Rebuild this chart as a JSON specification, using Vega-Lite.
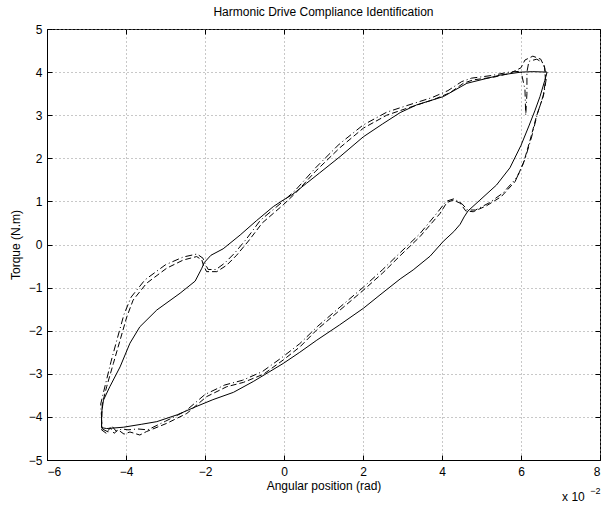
{
  "$schema": "https://vega.github.io/schema/vega-lite/v6.json",
  "width": 553,
  "height": 431,
  "autosize": {"type": "none"},
  "padding": {"left": 47, "top": 29, "right": 2, "bottom": 46},
  "background": "white",
  "title": {"text": "Harmonic Drive Compliance Identification", "fontSize": 12, "fontWeight": "normal", "font": "Liberation Sans", "color": "black", "offset": 4},
  "config": {
    "font": "Liberation Sans",
    "view": {"stroke": "black", "strokeWidth": 1},
    "axis": {"labelFont": "Liberation Sans", "labelFontSize": 12, "labelColor": "black", "titleFont": "Liberation Sans", "titleFontSize": 12, "titleFontWeight": "normal", "titleColor": "black", "domainColor": "black", "tickColor": "black", "gridColor": "#909090", "gridDash": [1, 3], "gridOpacity": 1}
  },
  "datasets": {
    "measured": [
      {"i":1,"x":-4.62,"y":-4.25},{"i":2,"x":-4.49,"y":-4.27},{"i":3,"x":-4.07,"y":-4.24},{"i":4,"x":-3.6,"y":-4.17},{"i":5,"x":-3.22,"y":-4.11},{"i":6,"x":-2.7,"y":-3.95},{"i":7,"x":-2.25,"y":-3.77},{"i":8,"x":-1.8,"y":-3.6},{"i":9,"x":-1.28,"y":-3.43},{"i":10,"x":-0.78,"y":-3.18},{"i":11,"x":-0.4,"y":-2.97},{"i":12,"x":-0.02,"y":-2.76},{"i":13,"x":0.4,"y":-2.5},{"i":14,"x":0.83,"y":-2.22},{"i":15,"x":1.4,"y":-1.87},{"i":16,"x":2.01,"y":-1.48},{"i":17,"x":2.43,"y":-1.17},{"i":18,"x":2.94,"y":-0.8},{"i":19,"x":3.27,"y":-0.59},{"i":20,"x":3.7,"y":-0.27},{"i":21,"x":4.03,"y":0.07},{"i":22,"x":4.3,"y":0.3},{"i":23,"x":4.46,"y":0.47},{"i":24,"x":4.56,"y":0.64},{"i":25,"x":4.66,"y":0.78},{"i":26,"x":4.96,"y":1.03},{"i":27,"x":5.38,"y":1.38},{"i":28,"x":5.72,"y":1.78},{"i":29,"x":6.0,"y":2.3},{"i":30,"x":6.2,"y":2.75},{"i":31,"x":6.35,"y":3.1},{"i":32,"x":6.48,"y":3.43},{"i":33,"x":6.6,"y":3.8},{"i":34,"x":6.66,"y":4.0},{"i":35,"x":6.3,"y":4.01},{"i":36,"x":6.0,"y":4.0},{"i":37,"x":5.47,"y":3.93},{"i":38,"x":4.63,"y":3.74},{"i":39,"x":4.03,"y":3.43},{"i":40,"x":3.36,"y":3.24},{"i":41,"x":2.94,"y":3.06},{"i":42,"x":2.5,"y":2.8},{"i":43,"x":2.01,"y":2.5},{"i":44,"x":1.42,"y":2.04},{"i":45,"x":0.9,"y":1.66},{"i":46,"x":0.57,"y":1.42},{"i":47,"x":0.2,"y":1.15},{"i":48,"x":-0.02,"y":1.03},{"i":49,"x":-0.27,"y":0.88},{"i":50,"x":-0.7,"y":0.55},{"i":51,"x":-1.11,"y":0.22},{"i":52,"x":-1.54,"y":-0.1},{"i":53,"x":-1.85,"y":-0.25},{"i":54,"x":-2.02,"y":-0.42},{"i":55,"x":-2.08,"y":-0.55},{"i":56,"x":-2.25,"y":-0.85},{"i":57,"x":-2.63,"y":-1.13},{"i":58,"x":-3.22,"y":-1.52},{"i":59,"x":-3.65,"y":-1.91},{"i":60,"x":-3.9,"y":-2.29},{"i":61,"x":-4.15,"y":-2.84},{"i":62,"x":-4.41,"y":-3.3},{"i":63,"x":-4.57,"y":-3.61},{"i":64,"x":-4.62,"y":-3.92},{"i":65,"x":-4.62,"y":-4.25}
    ],
    "model1": [
      {"i":1,"x":-4.62,"y":-4.3},{"i":2,"x":-4.5,"y":-4.38},{"i":3,"x":-4.4,"y":-4.25},{"i":4,"x":-4.3,"y":-4.38},{"i":5,"x":-4.2,"y":-4.3},{"i":6,"x":-4.05,"y":-4.4},{"i":7,"x":-3.9,"y":-4.35},{"i":8,"x":-3.65,"y":-4.42},{"i":9,"x":-3.48,"y":-4.34},{"i":10,"x":-2.97,"y":-4.15},{"i":11,"x":-2.46,"y":-3.92},{"i":12,"x":-1.96,"y":-3.53},{"i":13,"x":-1.45,"y":-3.3},{"i":14,"x":-1.03,"y":-3.2},{"i":15,"x":-0.52,"y":-3.01},{"i":16,"x":-0.02,"y":-2.68},{"i":17,"x":0.41,"y":-2.37},{"i":18,"x":0.83,"y":-1.98},{"i":19,"x":1.42,"y":-1.52},{"i":20,"x":2.01,"y":-1.06},{"i":21,"x":2.5,"y":-0.66},{"i":22,"x":2.94,"y":-0.26},{"i":23,"x":3.44,"y":0.18},{"i":24,"x":3.95,"y":0.72},{"i":25,"x":4.12,"y":0.97},{"i":26,"x":4.28,"y":1.03},{"i":27,"x":4.46,"y":0.96},{"i":28,"x":4.6,"y":0.78},{"i":29,"x":4.79,"y":0.76},{"i":30,"x":5.13,"y":0.9},{"i":31,"x":5.5,"y":1.11},{"i":32,"x":5.85,"y":1.46},{"i":33,"x":6.06,"y":1.88},{"i":34,"x":6.23,"y":2.42},{"i":35,"x":6.39,"y":2.97},{"i":36,"x":6.56,"y":3.43},{"i":37,"x":6.62,"y":3.8},{"i":38,"x":6.6,"y":4.1},{"i":39,"x":6.5,"y":4.3},{"i":40,"x":6.3,"y":4.37},{"i":41,"x":6.1,"y":4.28},{"i":42,"x":6.0,"y":4.1},{"i":43,"x":5.72,"y":3.97},{"i":44,"x":5.3,"y":3.88},{"i":45,"x":4.79,"y":3.82},{"i":46,"x":4.54,"y":3.74},{"i":47,"x":4.2,"y":3.52},{"i":48,"x":3.78,"y":3.36},{"i":49,"x":3.11,"y":3.16},{"i":50,"x":2.6,"y":3.0},{"i":51,"x":2.01,"y":2.7},{"i":52,"x":1.42,"y":2.25},{"i":53,"x":0.8,"y":1.7},{"i":54,"x":0.3,"y":1.2},{"i":55,"x":-0.02,"y":0.92},{"i":56,"x":-0.55,"y":0.5},{"i":57,"x":-0.9,"y":0.08},{"i":58,"x":-1.2,"y":-0.25},{"i":59,"x":-1.45,"y":-0.48},{"i":60,"x":-1.7,"y":-0.63},{"i":61,"x":-1.96,"y":-0.63},{"i":62,"x":-2.04,"y":-0.48},{"i":63,"x":-2.08,"y":-0.36},{"i":64,"x":-2.21,"y":-0.28},{"i":65,"x":-2.55,"y":-0.36},{"i":66,"x":-2.97,"y":-0.55},{"i":67,"x":-3.48,"y":-0.9},{"i":68,"x":-3.82,"y":-1.29},{"i":69,"x":-3.98,"y":-1.68},{"i":70,"x":-4.15,"y":-2.22},{"i":71,"x":-4.32,"y":-2.76},{"i":72,"x":-4.49,"y":-3.3},{"i":73,"x":-4.6,"y":-3.7},{"i":74,"x":-4.62,"y":-4.3}
    ],
    "model2": [
      {"i":1,"x":-4.6,"y":-4.28},{"i":2,"x":-4.45,"y":-4.35},{"i":3,"x":-4.35,"y":-4.22},{"i":4,"x":-4.25,"y":-4.33},{"i":5,"x":-4.1,"y":-4.28},{"i":6,"x":-3.95,"y":-4.3},{"i":7,"x":-3.7,"y":-4.28},{"i":8,"x":-3.45,"y":-4.3},{"i":9,"x":-3.0,"y":-4.1},{"i":10,"x":-2.5,"y":-3.87},{"i":11,"x":-2.0,"y":-3.48},{"i":12,"x":-1.5,"y":-3.26},{"i":13,"x":-1.05,"y":-3.15},{"i":14,"x":-0.55,"y":-2.95},{"i":15,"x":-0.05,"y":-2.62},{"i":16,"x":0.4,"y":-2.3},{"i":17,"x":0.85,"y":-1.9},{"i":18,"x":1.42,"y":-1.45},{"i":19,"x":2.01,"y":-0.99},{"i":20,"x":2.5,"y":-0.58},{"i":21,"x":2.94,"y":-0.19},{"i":22,"x":3.44,"y":0.25},{"i":23,"x":3.9,"y":0.76},{"i":24,"x":4.1,"y":1.0},{"i":25,"x":4.3,"y":1.06},{"i":26,"x":4.5,"y":0.95},{"i":27,"x":4.65,"y":0.8},{"i":28,"x":4.85,"y":0.8},{"i":29,"x":5.2,"y":0.97},{"i":30,"x":5.55,"y":1.2},{"i":31,"x":5.9,"y":1.56},{"i":32,"x":6.1,"y":1.98},{"i":33,"x":6.27,"y":2.5},{"i":34,"x":6.42,"y":3.05},{"i":35,"x":6.58,"y":3.5},{"i":36,"x":6.64,"y":3.85},{"i":37,"x":6.58,"y":4.2},{"i":38,"x":6.4,"y":4.3},{"i":39,"x":6.2,"y":4.25},{"i":40,"x":6.15,"y":4.0},{"i":41,"x":6.15,"y":3.5},{"i":42,"x":6.12,"y":3.0},{"i":43,"x":6.1,"y":3.6},{"i":44,"x":6.0,"y":4.02},{"i":45,"x":5.7,"y":4.0},{"i":46,"x":5.25,"y":3.92},{"i":47,"x":4.75,"y":3.86},{"i":48,"x":4.5,"y":3.78},{"i":49,"x":4.15,"y":3.57},{"i":50,"x":3.75,"y":3.41},{"i":51,"x":3.1,"y":3.22},{"i":52,"x":2.6,"y":3.07},{"i":53,"x":2.0,"y":2.77},{"i":54,"x":1.4,"y":2.33},{"i":55,"x":0.8,"y":1.78},{"i":56,"x":0.3,"y":1.27},{"i":57,"x":-0.05,"y":0.98},{"i":58,"x":-0.6,"y":0.56},{"i":59,"x":-0.95,"y":0.13},{"i":60,"x":-1.25,"y":-0.2},{"i":61,"x":-1.5,"y":-0.43},{"i":62,"x":-1.72,"y":-0.58},{"i":63,"x":-1.92,"y":-0.58},{"i":64,"x":-2.0,"y":-0.44},{"i":65,"x":-2.05,"y":-0.32},{"i":66,"x":-2.2,"y":-0.22},{"i":67,"x":-2.55,"y":-0.29},{"i":68,"x":-3.0,"y":-0.47},{"i":69,"x":-3.52,"y":-0.82},{"i":70,"x":-3.87,"y":-1.22},{"i":71,"x":-4.05,"y":-1.62},{"i":72,"x":-4.22,"y":-2.18},{"i":73,"x":-4.38,"y":-2.72},{"i":74,"x":-4.53,"y":-3.28},{"i":75,"x":-4.64,"y":-3.7},{"i":76,"x":-4.6,"y":-4.28}
    ],
    "note": [{"label": "x 10", "exp": "−2"}]
  },
  "layer": [
    {
      "data": {"name": "measured"},
      "mark": {"type": "line", "color": "black", "strokeWidth": 1, "clip": true},
      "encoding": {
        "order": {"field": "i", "type": "quantitative"},
        "x": {"field": "x", "type": "quantitative", "scale": {"domain": [-6, 8], "nice": false, "zero": false},
              "axis": {"orient": "bottom", "values": [-6, -4, -2, 0, 2, 4, 6, 8], "format": "d", "grid": true, "tickSize": -5, "labelPadding": 11, "title": "Angular position (rad)", "titlePadding": 3}},
        "y": {"field": "y", "type": "quantitative", "scale": {"domain": [-5, 5], "nice": false, "zero": false},
              "axis": {"orient": "left", "values": [-5, -4, -3, -2, -1, 0, 1, 2, 3, 4, 5], "format": "d", "grid": true, "tickSize": -5, "labelPadding": 10, "title": "Torque (N.m)", "titlePadding": 6}}
      }
    },
    {
      "data": {"name": "model1"},
      "mark": {"type": "line", "color": "black", "strokeWidth": 1, "strokeDash": [6, 3], "clip": true},
      "encoding": {
        "order": {"field": "i", "type": "quantitative"},
        "x": {"field": "x", "type": "quantitative",
              "axis": {"orient": "top", "values": [-6, -4, -2, 0, 2, 4, 6, 8], "labels": false, "grid": false, "tickSize": -5, "title": null, "domain": false}},
        "y": {"field": "y", "type": "quantitative",
              "axis": {"orient": "right", "values": [-5, -4, -3, -2, -1, 0, 1, 2, 3, 4, 5], "labels": false, "grid": false, "tickSize": -5, "title": null, "domain": false}}
      }
    },
    {
      "data": {"name": "model2"},
      "mark": {"type": "line", "color": "black", "strokeWidth": 1, "strokeDash": [7, 3, 1, 3], "clip": true},
      "encoding": {
        "order": {"field": "i", "type": "quantitative"},
        "x": {"field": "x", "type": "quantitative", "axis": null},
        "y": {"field": "y", "type": "quantitative", "axis": null}
      }
    },
    {
      "data": {"name": "note"},
      "mark": {"type": "text", "align": "left", "baseline": "middle", "fontSize": 12, "font": "Liberation Sans", "color": "black"},
      "encoding": {
        "x": {"datum": 7.04, "type": "quantitative", "axis": null},
        "y": {"datum": -5.86, "type": "quantitative", "axis": null},
        "text": {"field": "label"}
      }
    },
    {
      "data": {"name": "note"},
      "mark": {"type": "text", "align": "left", "baseline": "middle", "fontSize": 9, "font": "Liberation Sans", "color": "black"},
      "encoding": {
        "x": {"datum": 7.75, "type": "quantitative", "axis": null},
        "y": {"datum": -5.72, "type": "quantitative", "axis": null},
        "text": {"field": "exp"}
      }
    }
  ],
  "resolve": {"axis": {"x": "independent", "y": "independent"}}
}
